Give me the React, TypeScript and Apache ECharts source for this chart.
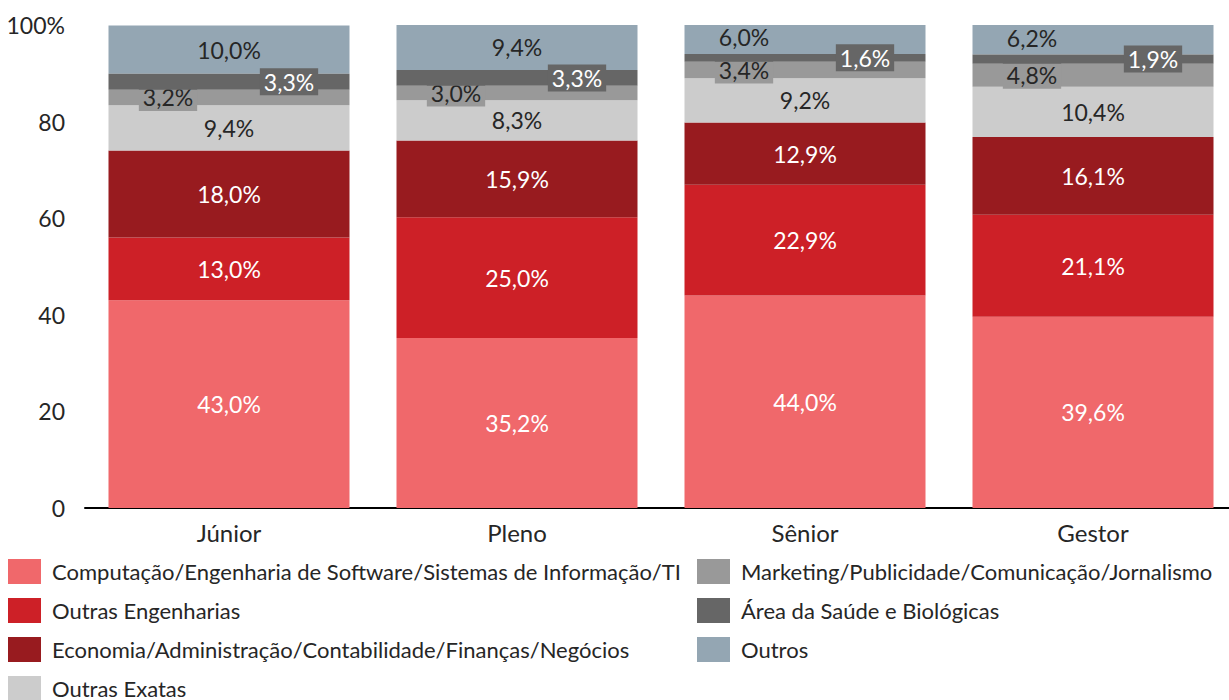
import React, { useEffect, useRef } from "react";
import * as echarts from "echarts";

const categories = ["Júnior", "Pleno", "Sênior", "Gestor"];
const seriesNames = [
  "Computação/Engenharia de Software/Sistemas de Informação/TI",
  "Outras Engenharias",
  "Economia/Administração/Contabilidade/Finanças/Negócios",
  "Outras Exatas",
  "Marketing/Publicidade/Comunicação/Jornalismo",
  "Área da Saúde e Biológicas",
  "Outros",
];
const computacao = [43.0, 35.2, 44.0, 39.6];
const outrasEng = [13.0, 25.0, 22.9, 21.1];
const economia = [18.0, 15.9, 12.9, 16.1];
const outrasExatas = [9.4, 8.3, 9.2, 10.4];
const marketing = [3.2, 3.0, 3.4, 4.8];
const saude = [3.3, 3.3, 1.6, 1.9];
const outros = [10.0, 9.4, 6.0, 6.2];
const yTicks = [0, 20, 40, 60, 80, 100];

const colors = ["#F0686B", "#CD2027", "#981B1F", "#CCCCCC", "#999999", "#666666", "#94A6B3"];
const FONT = "Lato";

export default function App() {
  const ref = useRef<HTMLDivElement>(null);
  useEffect(() => {
    document.body.style.margin = "0";
    document.body.style.overflow = "hidden";
    const chart = echarts.init(ref.current!, null, { renderer: "svg" });
    const fmt = (p: any) => p.value.toFixed(1).replace(".", ",") + "%";
    const dataSets = [computacao, outrasEng, economia, outrasExatas, marketing, saude, outros];
    const series = dataSets.map((d, i) => {
      const dark = i < 3 || i === 5;
      let label: any = {
        show: true,
        position: "inside",
        formatter: fmt,
        fontFamily: FONT,
        fontSize: 23,
        color: dark ? "#ffffff" : "#262626",
      };
      let data: any[] = d.map((v) => v);
      if (i === 4) {
        label = { ...label, offset: [-61, 0], backgroundColor: "#999999", padding: [2, 4] };
      }
      if (i === 5) {
        label = { ...label, offset: [60, 0], backgroundColor: "#666666", padding: [2, 4] };
      }
      if (i === 6) {
        data = d.map((v, k) => (k >= 2 ? { value: v, label: { offset: [-61, -2] } } : v));
      }
      return {
        name: seriesNames[i],
        type: "bar",
        stack: "total",
        barWidth: 241,
        data,
        itemStyle: { color: colors[i] },
        label,
        z: i === 5 ? 3 : 2,
      };
    });
    const legendBase = {
      orient: "vertical",
      top: 559,
      height: 160,
      padding: 0,
      itemWidth: 33,
      itemHeight: 25,
      itemGap: 14,
      icon: "rect",
      textStyle: { fontFamily: FONT, fontSize: 22, lineHeight: 25, color: "#262626", padding: [0, 0, 0, 6] },
      selectedMode: false,
    };
    chart.setOption({
      animation: false,
      color: colors,
      grid: { left: 85, width: 1152, top: 25, height: 483 },
      xAxis: {
        type: "category",
        data: categories,
        axisLine: { show: true, lineStyle: { color: "#000", width: 2 } },
        axisTick: { show: false },
        axisLabel: { fontFamily: FONT, fontSize: 24, color: "#262626", margin: 12 },
      },
      yAxis: {
        type: "value",
        min: 0,
        max: 100,
        interval: 20,
        axisLine: { show: false },
        axisTick: { show: false },
        splitLine: { show: false },
        axisLabel: {
          fontFamily: FONT,
          fontSize: 23,
          color: "#262626",
          margin: 20,
          formatter: (v: number) => (v === yTicks[yTicks.length - 1] ? v + "%" : String(v)),
        },
      },
      legend: [
        { ...legendBase, data: seriesNames.slice(0, 4), left: 8 },
        { ...legendBase, data: seriesNames.slice(4), left: 697 },
      ],
      series,
    });
    return () => chart.dispose();
  }, []);
  return <div ref={ref} style={{ width: 1245, height: 700 }} />;
}
